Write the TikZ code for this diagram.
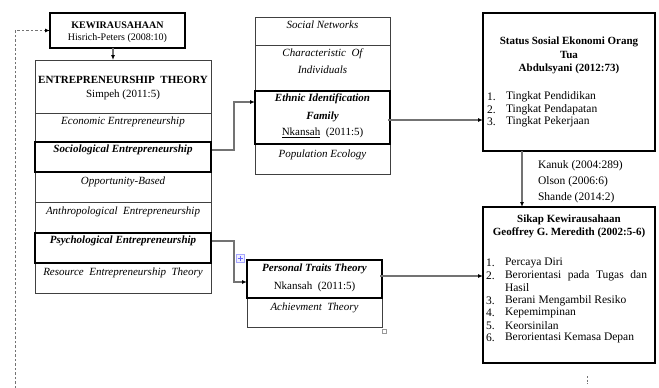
\documentclass[tikz,border=0pt]{standalone}
\usepackage{fontspec}
\setmainfont{Liberation Serif}
\usetikzlibrary{arrows.meta,calc}
\begin{document}
\begin{tikzpicture}[x=1pt,y=-1pt,
  every node/.style={inner sep=0pt,outer sep=0pt,font=\fontsize{11}{12.5}\selectfont},
  box/.style={draw=black!75,line width=0.8pt,rectangle,anchor=north west,inner sep=0pt},
  thickbox/.style={box,draw=black,line width=1.7pt},
  heavybox/.style={box,draw=black,line width=2.8pt},
  conn/.style={draw=black!55,line width=1.1pt,-{Latex[length=5pt,width=4pt,black]}},
  dconn/.style={draw=black!55,line width=1pt,dash pattern=on 2.5pt off 2pt,-{Latex[length=5pt,width=4pt,black]}},
  txt/.style={anchor=center,align=center},
  itx/.style={txt,font=\fontsize{11}{12.5}\selectfont\itshape},
  bitx/.style={txt,font=\fontsize{11}{12.5}\selectfont\bfseries\itshape},
  btx/.style={txt,font=\fontsize{11}{12.5}\selectfont\bfseries},
  ltx/.style={anchor=west,font=\fontsize{11.5}{13}\selectfont},
]
\useasboundingbox (0,0) rectangle (659,388);

% ---------- KEWIRAUSAHAAN ----------
\node[heavybox,minimum width=135pt,minimum height=35pt] (kew) at (50,13) {};
\node[txt,font=\fontsize{10}{12}\selectfont\bfseries] (kewt) at (117.5,25) {KEWIRAUSAHAAN};
\node[txt,font=\fontsize{10}{12}\selectfont] (kewa) at (117.5,38) {Hisrich-Peters (2008:10)};

% ---------- Entrepreneurship theory column ----------
\node[box,minimum width=176pt,minimum height=233pt] (et) at (35,60) {};
\node[box,minimum width=176pt,minimum height=53pt] (ethead) at (35,60) {};
\node[box,minimum width=176pt,minimum height=30pt] (opp) at (35,172) {};
\node[box,minimum width=176pt,minimum height=31pt] (anth) at (35,202) {};
\node[thickbox,minimum width=176pt,minimum height=30pt] (socio) at (35,142) {};
\node[thickbox,minimum width=176pt,minimum height=30pt] (psych) at (35,233) {};

\node[btx] (ett) at (123,80) {ENTREPRENEURSHIP\ \ THEORY};
\node[txt] (eta) at (123,95) {Simpeh (2011:5)};
\node[itx] (econ) at (123,122) {Economic Entrepreneurship};
\node[bitx] (sociot) at (123,150) {Sociological Entrepreneurship};
\node[itx] (oppt) at (123,182) {Opportunity-Based};
\node[itx] (antht) at (123,212) {Anthropological\ \ Entrepreneurship};
\node[bitx] (psycht) at (123,241) {Psychological Entrepreneurship};
\node[itx] (rest) at (123,273) {Resource\ \ Entrepreneurship\ \ Theory};

% ---------- Middle column ----------
\node[box,minimum width=135pt,minimum height=157pt] (mid) at (255,17) {};
\node[box,minimum width=135pt,minimum height=28pt] (socnet) at (255,17) {};
\node[thickbox,minimum width=135pt,minimum height=53pt] (ethnic) at (255,91) {};
\node[itx] (socnett) at (322.5,25) {Social Networks};
\node[itx] (chart) at (322.5,61.5) {Characteristic\ \ Of\\[4.5pt]Individuals};
\node[bitx] (etht) at (322.5,108) {Ethnic Identification\\[5pt]Family};
\node[txt] (etha) at (322.5,133) {\underline{Nkansah} \ (2011:5)};
\node[itx] (popt) at (322.5,155) {Population Ecology};

% ---------- Personal traits ----------
\node[box,minimum width=135pt,minimum height=67pt] (pers) at (247,260) {};
\node[thickbox,minimum width=135pt,minimum height=38pt] (perst) at (247,260) {};
\node[bitx] (perstt) at (314.5,269) {Personal Traits Theory};
\node[txt] (persa) at (314.5,287) {Nkansah \ (2011:5)};
\node[itx] (achv) at (314.5,308) {Achievment\ \ Theory};
\node[draw=black!40,line width=0.5pt,minimum size=4pt] (handle) at (384,331) {};
\node[draw=blue!35,fill=blue!6,line width=0.5pt,minimum size=8pt] (mover) at (240,258) {};
\draw[blue!60,line width=0.6pt] ($(mover.center)+(-2.5,0)$) -- ($(mover.center)+(2.5,0)$);
\draw[blue!60,line width=0.6pt] ($(mover.center)+(0,-2.5)$) -- ($(mover.center)+(0,2.5)$);

% ---------- Status Sosial Ekonomi ----------
\node[heavybox,minimum width=172pt,minimum height=138pt] (status) at (483,13) {};
\node[btx] (stt1) at (569,42) {Status Sosial Ekonomi Orang};
\node[btx] (stt2) at (569,55) {Tua};
\node[btx] (stt3) at (569,69) {Abdulsyani (2012:73)};
\node[ltx] (sn1) at (487,97) {1.};
\node[ltx] (sl1) at (506,97) {Tingkat Pendidikan};
\node[ltx] (sn2) at (487,110) {2.};
\node[ltx] (sl2) at (506,110) {Tingkat Pendapatan};
\node[ltx] (sn3) at (487,122) {3.};
\node[ltx] (sl3) at (506,122) {Tingkat Pekerjaan};

% ---------- Sikap Kewirausahaan ----------
\node[heavybox,line width=2.4pt,minimum width=172pt,minimum height=156pt] (sikap) at (483,207) {};
\node[btx] (skt1) at (569,220) {Sikap Kewirausahaan};
\node[btx] (skt2) at (569,233) {Geoffrey G. Meredith (2002:5-6)};
\node[ltx] (kn1) at (486,263) {1.};
\node[ltx] (kl1) at (505,263) {Percaya Diri};
\node[ltx] (kn2) at (486,276) {2.};
\node[ltx] (kl2) at (505,276) {\makebox[142pt][s]{Berorientasi pada Tugas dan}};
\node[ltx] (kl2b) at (505,288) {Hasil};
\node[ltx] (kn3) at (486,301) {3.};
\node[ltx] (kl3) at (505,301) {Berani Mengambil Resiko};
\node[ltx] (kn4) at (486,313) {4.};
\node[ltx] (kl4) at (505,313) {Kepemimpinan};
\node[ltx] (kn5) at (486,326) {5.};
\node[ltx] (kl5) at (505,326) {Keorsinilan};
\node[ltx] (kn6) at (486,338) {6.};
\node[ltx] (kl6) at (505,338) {Berorientasi Kemasa Depan};

% references between the right boxes
\node[ltx] (r1) at (538,166) {Kanuk (2004:289)};
\node[ltx] (r2) at (538,182) {Olson (2006:6)};
\node[ltx] (r3) at (538,198) {Shande (2014:2)};

% ---------- Connectors ----------
\draw[conn] ([xshift=-4.5pt]kew.south) -- ([xshift=-4.5pt]kew.south |- et.north);
\coordinate (dbot) at (15,388);
\draw[dconn] (dbot) |- (kew.west);

\coordinate (ein) at ($(ethnic.north west)+(0,11)$);
\draw[conn] ($(socio.north east)+(1,8)$) -- ($(socio.north east)+(23,8)$) |- (ein);

\coordinate (eout) at ($(ethnic.north east)+(-2,29)$);
\draw[conn] (eout) -- (eout -| status.west);

\coordinate (pin) at ($(perst.north west)+(0,22)$);
\draw[conn] ($(psych.north east)+(1,8)$) -- ($(psych.north east)+(23,8)$) |- (pin);

\coordinate (pout) at ($(perst.north east)+(-2,16)$);
\draw[conn] (pout) -- (pout -| sikap.west);

\coordinate (sdown) at (522,0);
\draw[conn] (sdown |- status.south) -- (sdown |- sikap.north);

\coordinate (bt1) at (587,376);
\coordinate (bt2) at (587,384);
\draw[draw=black!55,line width=0.8pt,dash pattern=on 2pt off 1.5pt] (bt1) -- (bt2);
\end{tikzpicture}
\end{document}
